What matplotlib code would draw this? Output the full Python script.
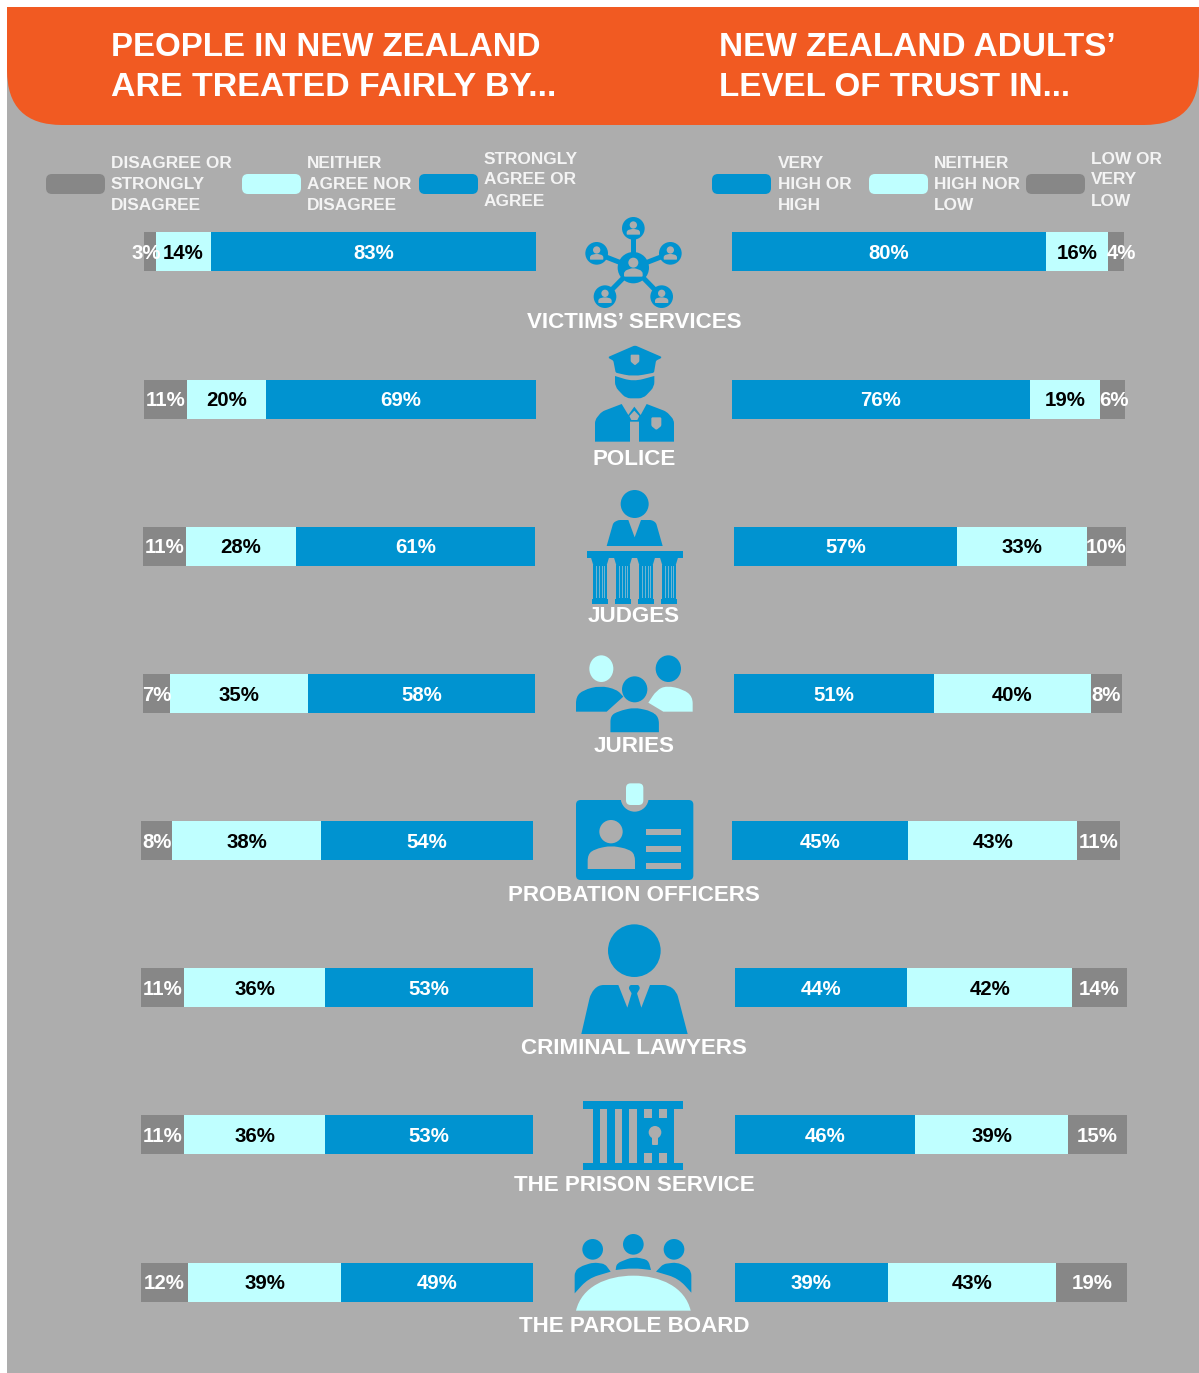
import numpy as np
import matplotlib
matplotlib.use("Agg")
import matplotlib.pyplot as plt
from matplotlib.patches import Circle, Ellipse, PathPatch, Rectangle
from matplotlib.path import Path

plt.rcParams['font.family'] = ['Liberation Sans', 'DejaVu Sans']

categories = ["VICTIMS’ SERVICES", "POLICE", "JUDGES", "JURIES", "PROBATION OFFICERS",
              "CRIMINAL LAWYERS", "THE PRISON SERVICE", "THE PAROLE BOARD"]
fair_disagree = [3, 11, 11, 7, 8, 11, 11, 12]
fair_neither = [14, 20, 28, 35, 38, 36, 36, 39]
fair_agree = [83, 69, 61, 58, 54, 53, 53, 49]
trust_high = [80, 76, 57, 51, 45, 44, 46, 39]
trust_neither = [16, 19, 33, 40, 43, 42, 39, 43]
trust_low = [4, 6, 10, 8, 11, 14, 15, 19]
# bar lengths as drawn where the unrounded share differs from the printed label
trust_neither_len = [16, 17.9, 33, 40, 43, 42, 39, 43]
trust_low_len = [4, 6.3, 10, 8, 11, 14, 15, 18.1]

title_left = ["PEOPLE IN NEW ZEALAND", "ARE TREATED FAIRLY BY..."]
title_right = ["NEW ZEALAND ADULTS’", "LEVEL OF TRUST IN..."]
legend_left = [["DISAGREE OR", "STRONGLY", "DISAGREE"], ["NEITHER", "AGREE NOR", "DISAGREE"],
               ["STRONGLY", "AGREE OR", "AGREE"]]
legend_right = [["VERY", "HIGH OR", "HIGH"], ["NEITHER", "HIGH NOR", "LOW"], ["LOW OR", "VERY", "LOW"]]

# layout (pixels)
W, H = 1199, 1373
PX = 3.92
left_end = [536, 536, 535, 535, 533, 533, 533, 533]
right_start = [732, 732, 734, 734, 732, 735, 735, 735]
row_y0, row_step, bar_h = 252, 147.15, 39
name_base = [327.5, 465, 622, 752, 901, 1054, 1191, 1332]

BLUE, CYAN, GREY, BG, ORANGE = '#0093D0', '#BFFFFF', '#878787', '#ADADAD', '#F15A22'

fig = plt.figure(figsize=(W / 100, H / 100), dpi=100, facecolor='white')
ax = fig.add_axes([0, 0, 1, 1])
ax.set_xlim(0, W)
ax.set_ylim(H, 0)
ax.axis('off')

# percentage axes over the whole figure: 0 at an anchor pixel, 1 unit = PX pixels
axL = fig.add_axes([0, 0, 1, 1], zorder=2)
axL.set_xlim(536 / PX, (536 - W) / PX)
axL.set_ylim((H - row_y0) / row_step, -row_y0 / row_step)
axL.axis('off')
axR = fig.add_axes([0, 0, 1, 1], zorder=2)
axR.set_xlim(-732 / PX, (W - 732) / PX)
axR.set_ylim((H - row_y0) / row_step, -row_y0 / row_step)
axR.axis('off')

def rounded(pts, r):
    """Closed path through pts with corners rounded by radius r (scalar or list)."""
    pts = [np.array(p, float) for p in pts]
    n = len(pts)
    rs = r if isinstance(r, (list, tuple)) else [r] * n
    v, c = [], []
    for i in range(n):
        p, a, b = pts[i], pts[i - 1], pts[(i + 1) % n]
        ri = rs[i]
        if ri <= 0:
            v.append(p); c.append(Path.LINETO if i else Path.MOVETO)
            continue
        d1 = (a - p); l1 = np.hypot(*d1)
        d2 = (b - p); l2 = np.hypot(*d2)
        ra = min(ri, l1 / 2); rb = min(ri, l2 / 2)
        s, e = p + d1 / l1 * ra, p + d2 / l2 * rb
        v.append(s); c.append(Path.LINETO if i else Path.MOVETO)
        v += [p, e]; c += [Path.CURVE3, Path.CURVE3]
    v.append(v[0]); c.append(Path.CLOSEPOLY)
    return Path(v, c)

# panel and header
ax.add_patch(Rectangle((7, 7), W - 7, H - 7, fc=BG, ec='none', zorder=0))
ax.add_patch(PathPatch(rounded([(7, 7), (W, 7), (W, 125), (7, 125)], [0, 0, 55, 55]),
                       fc=ORANGE, ec='none', zorder=1))
title_sizes_left = [23.8, 24.4]
title_sizes_right = [24, 23.9]
for i, (a, b) in enumerate(zip(title_left, title_right)):
    y = 55.5 + i * 40
    ax.text(111, y, a, color='white', fontsize=title_sizes_left[i], fontweight='bold',
            va='baseline', ha='left', zorder=3)
    ax.text(719, y, b, color='white', fontsize=title_sizes_right[i], fontweight='bold',
            va='baseline', ha='left', zorder=3)

# legend
def legend_item(sx, color, tx, lines, ty):
    ax.add_patch(PathPatch(rounded([(sx, 174), (sx + 59, 174), (sx + 59, 194), (sx, 194)], 6),
                           fc=color, ec='none', zorder=2))
    for i, line in enumerate(lines):
        ax.text(tx, ty + i * 21, line, color='#F4F4F4', fontsize=12.4, fontweight='bold',
                va='baseline', ha='left', zorder=3)

legend_item(46, GREY, 111, legend_left[0], 168)
legend_item(242, CYAN, 307, legend_left[1], 168)
legend_item(419, BLUE, 483.5, legend_left[2], 163.5)
legend_item(712, BLUE, 778, legend_right[0], 168)
legend_item(869, CYAN, 934, legend_right[1], 168)
legend_item(1026, GREY, 1091, legend_right[2], 163.5)

# bars
rows = np.arange(len(categories))
hgt = bar_h / row_step
BASE = 7.2 / row_step  # label baseline below the bar centre (rows grow downwards)

def seg(a, start, lens, labels, color, tcolor, nudge=None):
    a.barh(rows, lens, left=start, height=hgt, color=color, edgecolor='none', zorder=2)
    for i in rows:
        x = start[i] + lens[i] / 2 + (nudge[i] if nudge else 0)
        a.text(x, i + BASE, f"{labels[i]}%", color=tcolor, fontsize=14.7, fontweight='bold',
               ha='center', va='baseline', zorder=4)

l0 = np.array([(536 - e) / PX for e in left_end])
seg(axL, l0, fair_agree, fair_agree, BLUE, 'white')
l1 = l0 + np.array(fair_agree)
seg(axL, l1, fair_neither, fair_neither, CYAN, 'black')
l2 = l1 + np.array(fair_neither)
seg(axL, l2, fair_disagree, fair_disagree, GREY, 'white', nudge=[0.8, 0, 0, 0, 0, 0, 0, 0])

r0 = np.array([(s - 732) / PX for s in right_start])
seg(axR, r0, trust_high, trust_high, BLUE, 'white')
r1 = r0 + np.array(trust_high)
seg(axR, r1, trust_neither_len, trust_neither, CYAN, 'black')
r2 = r1 + np.array(trust_neither_len)
seg(axR, r2, trust_low_len, trust_low, GREY, 'white', nudge=[1.3, 0.4, 0, 0, 0, 0, 0, 0])

for name, y in zip(categories, name_base):
    ax.text(634, y, name, color='white', fontsize=16.1, fontweight='bold',
            ha='center', va='baseline', zorder=6)

# icon helpers: coordinates given in 3x crop space with an origin
class Icon:
    def __init__(self, ox, oy):
        self.ox, self.oy = ox, oy
    def t(self, p):
        return (self.ox + p[0] / 3, self.oy + p[1] / 3)
    def circ(self, p, r, c=BLUE, z=3, ec='none', lw=0):
        ax.add_patch(Circle(self.t(p), r / 3, fc=c, ec=ec, lw=lw, zorder=z))
    def ell(self, p, w, h, c=BLUE, z=3):
        ax.add_patch(Ellipse(self.t(p), w / 3, h / 3, fc=c, ec='none', zorder=z))
    def poly(self, pts, r=0, c=BLUE, z=3, ec='none', lw=0):
        ax.add_patch(PathPatch(rounded([self.t(p) for p in pts], r / 3 if not isinstance(r, list) else [x / 3 for x in r]),
                               fc=c, ec=ec, lw=lw, zorder=z))
    def rect(self, x0, y0, x1, y1, c=BLUE, z=3, r=0):
        self.poly([(x0, y0), (x1, y0), (x1, y1), (x0, y1)], r=r, c=c, z=z)
    def line(self, a, b, w, c=BLUE, z=3):
        A, B = self.t(a), self.t(b)
        ax.plot([A[0], B[0]], [A[1], B[1]], color=c, lw=w * 0.72, zorder=z, solid_capstyle='butt')

# victims' services
ic = Icon(500, 200)
hub = (400, 203)
sats = [(400, 85), (290, 160), (511, 160), (315, 290), (485, 290)]
for s in sats:
    ic.line(hub, s, 5)
    ic.circ(s, 34)
    ic.circ((s[0], s[1] - 10), 11, BG, 4)
    ic.poly([(s[0] - 20, s[1] + 19), (s[0] - 20, s[1] + 6), (s[0], s[1] + 1), (s[0] + 20, s[1] + 6), (s[0] + 20, s[1] + 19)],
            [2, 7, 7, 7, 2], BG, 4)
ic.circ(hub, 47)
ic.circ((400, 188), 15, BG, 4)
ic.poly([(372, 230), (372, 213), (400, 203), (428, 213), (428, 230)], [3, 10, 10, 10, 3], BG, 4)

# police
ic = Icon(500, 200)
ic.poly([(322, 472), (405, 436), (488, 472), (468, 482), (462, 518), (400, 530), (347, 518), (340, 482)],
        [8, 6, 8, 4, 4, 30, 4, 4])
ic.poly([(392, 464), (418, 464), (418, 485), (405, 496), (392, 485)], 3, BG, 4)
ic.poly([(345, 528), (400, 545), (463, 528), (463, 560), (430, 595), (378, 595), (345, 560)], [0, 30, 0, 14, 14, 14, 14])
ic.poly([(285, 725), (285, 660), (305, 635), (365, 612), (385, 645), (403, 620), (422, 645),
         (440, 612), (500, 635), (522, 660), (522, 725), (417, 725), (417, 665), (390, 665), (390, 725)],
        [0, 10, 10, 0, 0, 0, 0, 0, 10, 10, 0, 0, 0, 0, 0])
ic.poly([(388, 648), (403, 632), (418, 648), (412, 660), (394, 660)], 1, BG, 4)
ic.poly([(454, 652), (484, 652), (484, 678), (469, 690), (454, 678)], 4, BG, 4)

# judges
ic = Icon(500, 480)
ic.circ((404, 72), 42)
ic.poly([(320, 198), (340, 128), (355, 120), (385, 120), (404, 172), (423, 120), (455, 120),
         (468, 128), (488, 198)], [0, 6, 6, 0, 0, 0, 6, 6, 0])
ic.rect(262, 212, 549, 233)
for cx in (300, 369, 438, 507):
    ic.poly([(cx - 27, 233), (cx + 27, 233), (cx + 20, 256), (cx - 20, 256)], 0)
    ic.rect(cx - 20, 256, cx + 20, 358)
    for dx in (-12, -3, 6, 14):
        ic.rect(cx + dx - 1.5, 258, cx + dx + 1.5, 354, '#6FB4D2', 4)
    ic.rect(cx - 24, 358, cx + 24, 373)

# juries
ic = Icon(500, 480)
ic.ell((304, 566), 72, 80, CYAN)
ic.ell((505, 566), 76, 80, BLUE)
ic.poly([(228, 695), (228, 650), (250, 630), (300, 617), (350, 628), (370, 650), (320, 695)],
        [0, 20, 25, 25, 25, 0, 0])
ic.poly([(445, 668), (470, 630), (500, 617), (550, 628), (578, 650), (578, 695), (490, 695)],
        [0, 25, 25, 25, 20, 0, 0], CYAN)
ic.ell((404, 628), 76, 78, BLUE, 5)
ic.poly([(328, 760), (328, 705), (355, 690), (403, 679), (455, 690), (480, 710), (480, 760)],
        [0, 20, 20, 20, 20, 20, 0], BLUE, 4, BG, 1.6)

# probation officers
ic = Icon(500, 775)
ic.rect(228, 75, 580, 315, r=14)
ic.circ((404, 68), 42, BG, 4)
ic.rect(378, 25, 430, 90, CYAN, 5, r=14)
ic.circ((333, 170), 35, BG, 4)
ic.poly([(263, 282), (263, 238), (285, 222), (333, 212), (385, 222), (405, 238), (405, 282)],
        [0, 20, 20, 20, 20, 20, 0], BG, 4)
for y in (162, 213, 265):
    ic.rect(438, y, 544, y + 17, BG, 4)

# criminal lawyers
ic = Icon(500, 775)
ic.circ((403, 527), 79)
ic.poly([(244, 777), (272, 655), (295, 630), (355, 630), (382, 698), (395, 655), (386, 640),
         (390, 630), (416, 630), (420, 640), (411, 655), (424, 698), (450, 630), (505, 630),
         (530, 650), (563, 777)], [0, 16, 16, 0, 0, 2, 4, 4, 4, 4, 2, 0, 0, 16, 16, 0])

# prison service
ic = Icon(500, 1090)
ic.rect(250, 33, 548, 56)
ic.rect(250, 218, 548, 240)
ic.rect(278, 56, 522, 218)
for x0, x1 in ((300, 322), (345, 367), (388, 410)):
    ic.rect(x0, 56, x1, 218, BG, 4)
for x0, x1 in ((432, 455), (476, 500)):
    ic.rect(x0, 56, x1, 85, BG, 4)
    ic.rect(x0, 188, x1, 218, BG, 4)
ic.circ((465, 127), 19, BG, 4)
ic.rect(456, 132, 474, 165, BG, 4, r=3)

# parole board
ic = Icon(500, 1090)
for x, y in ((278, 478), (400, 463), (522, 478)):
    ic.circ((x, y), 31)
ic.poly([(224, 610), (224, 545), (240, 530), (280, 517), (315, 522), (332, 545), (265, 565)],
        [0, 12, 14, 14, 10, 0, 30])
ic.poly([(347, 540), (350, 520), (400, 500), (445, 510), (453, 540), (400, 534)],
        [0, 14, 20, 14, 0, 30])
ic.poly([(468, 545), (490, 522), (530, 517), (560, 530), (574, 545), (574, 608), (535, 565)],
        [0, 10, 14, 14, 12, 0, 30])
v = [ic.t(p) for p in [(228, 662), (245, 590), (320, 557), (400, 557), (480, 557), (555, 590), (572, 662), (228, 662)]]
ax.add_patch(PathPatch(Path(v, [Path.MOVETO] + [Path.CURVE4] * 6 + [Path.CLOSEPOLY]),
                       fc=CYAN, ec='none', zorder=5))

fig.savefig('out.png', dpi=100, facecolor='white')
